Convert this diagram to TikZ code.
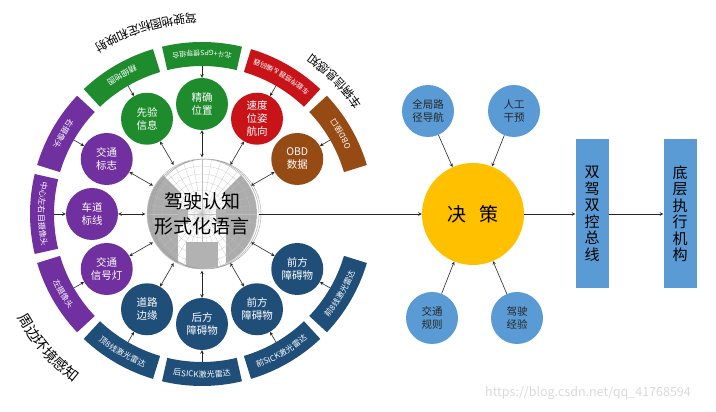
\documentclass[tikz,border=0pt]{standalone}
\usepackage{fontspec}
\setmainfont{Noto Sans CJK SC}
\usepackage{tikz}
\usetikzlibrary{arrows,decorations.text}
\definecolor{mgreen}{RGB}{30,140,45}
\definecolor{mred}{RGB}{200,20,25}
\definecolor{mbrown}{RGB}{150,75,20}
\definecolor{mpurple}{RGB}{112,48,160}
\definecolor{mnavy}{RGB}{31,78,121}
\definecolor{lblue}{RGB}{91,155,213}
\definecolor{myellow}{RGB}{255,192,0}

\begin{document}
\begin{tikzpicture}
  [x=1pt,y=1pt,>=stealth,
   sat/.style={circle,minimum size=52pt,inner sep=0pt,align=center,text=white,
     font=\fontsize{10.5}{13}\selectfont},
   aux/.style={circle,fill=lblue,minimum size=52pt,inner sep=0pt,align=center,
     text=black!85,font=\fontsize{10.5}{13}\selectfont},
   bar/.style={fill=lblue,minimum width=33pt,minimum height=149pt,inner sep=0pt,
     align=center,font=\fontsize{15}{16.5}\selectfont},
   seg/.style={line width=24pt,postaction={decorate}}]

  \tikzstyle{band} = [decoration={text along path,text align=center,raise=-3.5pt}]
  \tikzstyle{title} = [decorate,decoration={text along path,text align=center}]

  \useasboundingbox (0,0) rectangle (716,412);

  \begin{scope}[shift={(202,198)}]
    % gray core
    \begin{scope}
      \clip (0,0) circle (55pt);
      \fill[gray!65] (-55,-55) rectangle (55,55);
      \fill[white] (0,0) -- (45:56pt) arc[start angle=45,end angle=135,radius=56pt] -- cycle;
      \fill[white] (-24,-55) rectangle (24,20);
      \foreach \a in {0,10,...,350} \draw[gray!50,very thin] (0,0) -- (\a:55pt);
      \foreach \r in {8,16,...,56} \draw[gray!50,very thin] (0,0) circle (\r pt);
      \fill[gray!60] (-16,-55) rectangle (16,-28);
      \fill[gray!60] (-24,-10) rectangle (-14,5) (14,-10) rectangle (24,5);
    \end{scope}
    \draw[gray!75] (2,0) circle (55pt) (4,0) circle (55pt);
    \draw[gray!50] (0,0) circle (55pt);
    \node[circle,minimum size=110pt,align=center,
          font=\fontsize{19}{25}\selectfont] (core) {驾驶认知\\形式化语言};

    % bands
    \draw[seg,mbrown,band,decoration={text={|\footnotesize\color{white}|OBD接口}}]
      (16.5:160pt) arc[start angle=16.5,end angle=43.5,radius=160pt];
    \draw[seg,mred,band,decoration={text={|\scriptsize\color{white}|车载传感器＆编码器}}]
      (46.5:160pt) arc[start angle=46.5,end angle=73.5,radius=160pt];
    \draw[seg,mgreen,band,decoration={text={|\scriptsize\color{white}|北斗+GPS惯导组合}}]
      (76.5:160pt) arc[start angle=76.5,end angle=103.5,radius=160pt];
    \draw[seg,mgreen,band,decoration={text={|\footnotesize\color{white}|精细地图}}]
      (106.5:160pt) arc[start angle=106.5,end angle=133.5,radius=160pt];
    \draw[seg,mpurple,band,decoration={text={|\footnotesize\color{white}|右摄像头}}]
      (136.5:160pt) arc[start angle=136.5,end angle=163.5,radius=160pt];
    \draw[seg,mpurple,band,decoration={text={|\footnotesize\color{white}|中心左右目摄像头}}]
      (166.5:160pt) arc[start angle=166.5,end angle=193.5,radius=160pt];
    \draw[seg,mpurple,band,decoration={text={|\footnotesize\color{white}|左摄像头}}]
      (196.5:160pt) arc[start angle=196.5,end angle=223.5,radius=160pt];
    \draw[seg,mnavy,band,decoration={text={|\footnotesize\color{white}|顶8线激光雷达}}]
      (226.5:160pt) arc[start angle=226.5,end angle=253.5,radius=160pt];
    \draw[seg,mnavy,band,decoration={text={|\footnotesize\color{white}|后SICK激光雷达}}]
      (256.5:160pt) arc[start angle=256.5,end angle=283.5,radius=160pt];
    \draw[seg,mnavy,band,decoration={text={|\footnotesize\color{white}|前SICK激光雷达}}]
      (286.5:160pt) arc[start angle=286.5,end angle=313.5,radius=160pt];
    \draw[seg,mnavy,band,decoration={text={|\footnotesize\color{white}|前8线激光雷达}}]
      (316.5:160pt) arc[start angle=316.5,end angle=343.5,radius=160pt];

    % titles round the bands
    \path[title,decoration={text={|\large|驾驶地图标定和映射}}]
      (86:200pt) arc[start angle=86,end angle=128,radius=200pt];
    \path[title,decoration={text={|\large|车辆信息感知}}]
      (28:194pt) arc[start angle=28,end angle=62,radius=194pt];
    \path[title,decoration={text={|\Large|周边环境感知}}]
      (205:212pt) arc[start angle=205,end angle=237,radius=212pt];

    % sensing nodes
    \node[sat,fill=mbrown]  (obd)  at (30:110pt)  {OBD\\数据};
    \node[sat,fill=mred]    (pose) at (60:110pt)  {速度\\位姿\\航向};
    \node[sat,fill=mgreen]  (pos)  at (90:110pt)  {精确\\位置};
    \node[sat,fill=mgreen]  (pre)  at (120:110pt) {先验\\信息};
    \node[sat,fill=mpurple] (sign) at (150:110pt) {交通\\标志};
    \node[sat,fill=mpurple] (lane) at (180:110pt) {车道\\标线};
    \node[sat,fill=mpurple] (lamp) at (210:110pt) {交通\\信号灯};
    \node[sat,fill=mnavy]   (edge) at (240:110pt) {道路\\边缘};
    \node[sat,fill=mnavy]   (rear) at (270:110pt) {后方\\障碍物};
    \node[sat,fill=mnavy]   (frtA) at (300:110pt) {前方\\障碍物};
    \node[sat,fill=mnavy]   (frtB) at (330:110pt) {前方\\障碍物};

    \coordinate (bobd)  at (30:148pt);
    \coordinate (bpose) at (60:148pt);
    \coordinate (bpos)  at (90:148pt);
    \coordinate (bpre)  at (120:148pt);
    \coordinate (bsign) at (150:148pt);
    \coordinate (blane) at (180:148pt);
    \coordinate (blamp) at (210:148pt);
    \coordinate (bedge) at (240:148pt);
    \coordinate (brear) at (270:148pt);
    \coordinate (bfrtA) at (300:148pt);
    \coordinate (bfrtB) at (330:148pt);
  \end{scope}

  % decision part
  \node[circle,fill=myellow,minimum size=102pt,font=\fontsize{19}{19}\selectfont]
    (dec) at (473,198) {决\hspace{0.7em}策};
  \node[aux] (nav)  at (428,301) {全局路\\径导航};
  \node[aux] (man)  at (514,301) {人工\\干预};
  \node[aux] (rule) at (432,94)  {交通\\规则};
  \node[aux] (exp)  at (517,94)  {驾驶\\经验};
  \node[bar] (bus)  at (592,198) {双\\驾\\双\\控\\总\\线};
  \node[bar] (act)  at (680,198) {底\\层\\执\\行\\机\\构};

  \node[text=gray!30,font=\fontsize{12.5}{12.5}\selectfont] (mark) at (588,19)
    {https://blog.csdn.net/qq\_41768594};

  \path[->,semithick,black!85]
        (bobd) edge (obd) (bpose) edge (pose) (bpos) edge (pos) (bpre) edge (pre)
        (bsign) edge (sign) (blane) edge (lane) (blamp) edge (lamp)
        (bedge) edge (edge) (brear) edge (rear) (bfrtA) edge (frtA) (bfrtB) edge (frtB)
        (core) edge (dec) (dec) edge (bus) (bus) edge (act)
        (nav) edge (dec) (man) edge (dec) (rule) edge (dec) (exp) edge (dec);

  \path[<->,semithick,black!85]
        (obd) edge (core) (pose) edge (core) (pos) edge (core) (pre) edge (core)
        (sign) edge (core) (lane) edge (core) (lamp) edge (core)
        (edge) edge (core) (rear) edge (core) (frtA) edge (core) (frtB) edge (core);
\end{tikzpicture}
\end{document}
